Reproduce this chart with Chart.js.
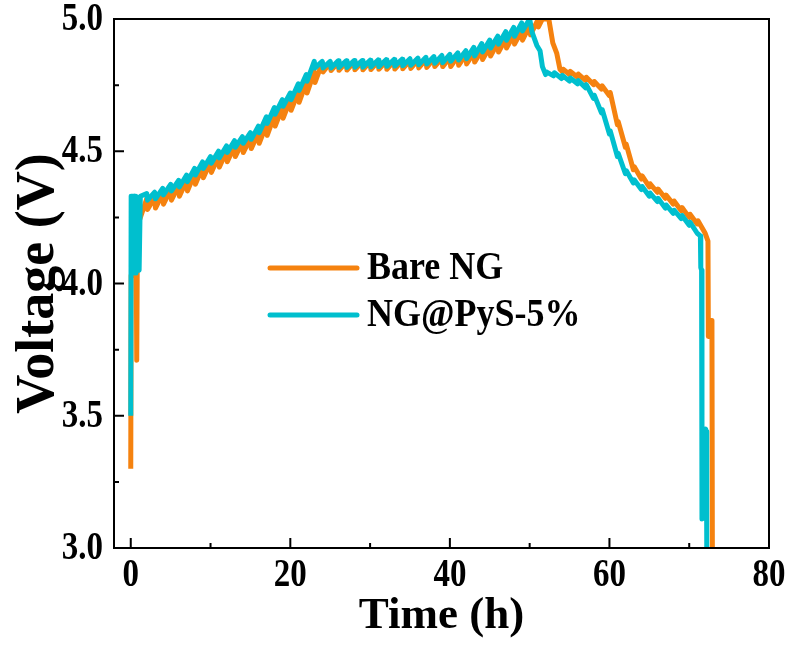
<!DOCTYPE html>
<html>
<head>
<meta charset="utf-8">
<script src="https://cdn.jsdelivr.net/npm/chart.js@4.4.1/dist/chart.umd.min.js"></script>
<style>
  html, body { margin: 0; padding: 0; background: #fff; }
  #wrap { width: 789px; height: 648px; }
</style>
</head>
<body>
<div id="wrap"><canvas id="voltChart" width="789" height="648"></canvas></div>
<script>
// time (h) / voltage (V) pairs
const bareNG = [
  [0, 3.30], [0.05, 4.03], [0.7, 4.03], [0.75, 3.71], [0.85, 4.25], [1.0, 4.28], [1.1, 4.24],
  [2, 4.32], [2.1, 4.28], [3, 4.325], [3.1, 4.285], [4, 4.34], [4.1, 4.30], [5, 4.355], [5.1, 4.315],
  [6, 4.37], [6.1, 4.33], [7, 4.39], [7.1, 4.35], [8, 4.415], [8.1, 4.375], [9, 4.44], [9.1, 4.40],
  [10, 4.46], [10.1, 4.42], [11, 4.48], [11.1, 4.44], [12, 4.50], [12.1, 4.46], [13, 4.52], [13.1, 4.48],
  [14, 4.535], [14.1, 4.495], [15, 4.55], [15.1, 4.51], [16, 4.57], [16.1, 4.53], [17, 4.60], [17.1, 4.56],
  [18, 4.635], [18.1, 4.595], [19, 4.665], [19.1, 4.625], [20, 4.695], [20.1, 4.655], [21, 4.725], [21.1, 4.685],
  [22, 4.76], [22.1, 4.72], [23, 4.80], [23.1, 4.76], [24, 4.835], [24.1, 4.80], [25, 4.835], [25.1, 4.805],
  [26, 4.836], [26.1, 4.806], [27, 4.837], [27.1, 4.807], [28, 4.838], [28.1, 4.808], [29, 4.838], [29.1, 4.808],
  [30, 4.839], [30.1, 4.809], [31, 4.84], [31.1, 4.81], [32, 4.84], [32.1, 4.81], [33, 4.841], [33.1, 4.811],
  [34, 4.842], [34.1, 4.812], [35, 4.843], [35.1, 4.813], [36, 4.845], [36.1, 4.815], [37, 4.847], [37.1, 4.817],
  [38, 4.85], [38.1, 4.82], [39, 4.852], [39.1, 4.82], [40, 4.855], [40.1, 4.82], [41, 4.86], [41.1, 4.825],
  [42, 4.865], [42.1, 4.83], [43, 4.872], [43.1, 4.837], [44, 4.882], [44.1, 4.847], [45, 4.895], [45.1, 4.86],
  [46, 4.91], [46.1, 4.875], [47, 4.925], [47.1, 4.89], [48, 4.94], [48.1, 4.905], [49, 4.955], [49.1, 4.92],
  [50, 4.975], [50.1, 4.94], [51, 4.995], [51.1, 4.97], [51.6, 5.0], [52.4, 5.0], [52.9, 4.91], [53.4, 4.87],
  [53.8, 4.81], [54.1, 4.80], [54.2, 4.81], [55, 4.79], [55.1, 4.802], [56, 4.78], [56.1, 4.792],
  [57, 4.768], [57.1, 4.78], [58, 4.752], [58.1, 4.764], [59, 4.735], [59.1, 4.747], [60, 4.71], [60.1, 4.722],
  [61, 4.60], [61.1, 4.612], [62, 4.515], [62.1, 4.527], [63, 4.43], [63.1, 4.442], [64, 4.395], [64.1, 4.407],
  [65, 4.365], [65.1, 4.377], [66, 4.345], [66.1, 4.357], [67, 4.322], [67.1, 4.334], [68, 4.30], [68.1, 4.312],
  [69, 4.275], [69.1, 4.287], [70, 4.25], [70.1, 4.262], [71, 4.225], [71.1, 4.237], [72, 4.19],
  [72.35, 4.16], [72.4, 3.80], [72.7, 3.80], [72.75, 3.86], [72.85, 3.85], [72.9, 3.0]
];

const ngPyS = [
  [0, 3.50], [0.05, 4.33], [0.45, 4.33], [0.5, 4.04], [0.6, 4.04], [0.65, 4.33],
  [1.0, 4.32], [1.05, 4.05], [1.15, 4.05], [1.2, 4.33],
  [2, 4.34], [2.1, 4.315], [3, 4.345], [3.1, 4.32], [4, 4.36], [4.1, 4.335], [5, 4.375], [5.1, 4.35],
  [6, 4.39], [6.1, 4.365], [7, 4.41], [7.1, 4.385], [8, 4.435], [8.1, 4.41], [9, 4.46], [9.1, 4.435],
  [10, 4.48], [10.1, 4.455], [11, 4.50], [11.1, 4.475], [12, 4.52], [12.1, 4.495], [13, 4.54], [13.1, 4.515],
  [14, 4.555], [14.1, 4.53], [15, 4.57], [15.1, 4.545], [16, 4.595], [16.1, 4.57], [17, 4.63], [17.1, 4.605],
  [18, 4.665], [18.1, 4.64], [19, 4.695], [19.1, 4.67], [20, 4.72], [20.1, 4.695], [21, 4.755], [21.1, 4.73],
  [22, 4.79], [22.1, 4.765], [23, 4.84], [23.1, 4.815], [24, 4.84], [24.1, 4.815], [25, 4.84], [25.1, 4.815],
  [26, 4.842], [26.1, 4.817], [27, 4.842], [27.1, 4.817], [28, 4.843], [28.1, 4.818], [29, 4.843], [29.1, 4.818],
  [30, 4.844], [30.1, 4.819], [31, 4.845], [31.1, 4.82], [32, 4.846], [32.1, 4.821], [33, 4.847], [33.1, 4.822],
  [34, 4.848], [34.1, 4.823], [35, 4.85], [35.1, 4.825], [36, 4.852], [36.1, 4.827], [37, 4.855], [37.1, 4.83],
  [38, 4.858], [38.1, 4.833], [39, 4.862], [39.1, 4.835], [40, 4.866], [40.1, 4.84], [41, 4.872], [41.1, 4.845],
  [42, 4.88], [42.1, 4.85], [43, 4.893], [43.1, 4.86], [44, 4.907], [44.1, 4.875], [45, 4.92], [45.1, 4.89],
  [46, 4.935], [46.1, 4.905], [47, 4.952], [47.1, 4.92], [48, 4.968], [48.1, 4.935], [49, 4.985], [49.1, 4.955],
  [50, 5.0], [50.3, 4.95], [50.9, 4.90], [51.3, 4.88], [51.6, 4.82], [52, 4.79],
  [52.1, 4.80], [53, 4.785], [53.1, 4.797], [54, 4.775], [54.1, 4.787], [55, 4.765], [55.1, 4.777],
  [56, 4.755], [56.1, 4.767], [57, 4.74], [57.1, 4.752], [58, 4.70], [58.1, 4.712], [59, 4.645], [59.1, 4.657],
  [60, 4.565], [60.1, 4.577], [61, 4.48], [61.1, 4.492], [62, 4.415], [62.1, 4.427], [63, 4.38], [63.1, 4.392],
  [64, 4.355], [64.1, 4.367], [65, 4.33], [65.1, 4.342], [66, 4.31], [66.1, 4.322], [67, 4.285], [67.1, 4.297],
  [68, 4.265], [68.1, 4.277], [69, 4.245], [69.1, 4.257], [70, 4.22], [70.1, 4.232], [71, 4.19],
  [71.4, 4.18], [71.45, 4.06], [71.55, 4.05], [71.6, 3.11], [72.0, 3.12], [72.05, 3.45], [72.15, 3.44], [72.2, 3.0]
];

const xTicks = [0, 20, 40, 60, 80];
const xMinor = [10, 30, 50, 70];
const yTicks = [3.0, 3.5, 4.0, 4.5, 5.0];
const yMinor = [3.25, 3.75, 4.25, 4.75];

const ORANGE = '#F5820F';
const TEAL = '#00BFCE';
const FONT = "'Liberation Serif', 'Times New Roman', serif";

function toPoints(pairs) {
  return pairs.map(p => ({ x: p[0], y: p[1] }));
}

// the reference uses a tall, narrow bold serif: draw the text stretched a little
function tallText(ctx, text, x, y, stretch) {
  ctx.save();
  ctx.translate(x, y);
  ctx.scale(1, stretch);
  ctx.fillText(text, 0, 0);
  ctx.restore();
}

// frame, inward ticks, tick labels and the legend inside the plot
const decor = {
  id: 'decor',
  afterDraw(chart) {
    const { ctx, chartArea: a, scales: { x, y } } = chart;
    ctx.save();
    ctx.strokeStyle = '#000';
    ctx.lineWidth = 2;
    ctx.strokeRect(a.left, a.top, a.right - a.left, a.bottom - a.top);
    ctx.beginPath();
    xTicks.forEach(v => { const p = x.getPixelForValue(v); ctx.moveTo(p, a.bottom); ctx.lineTo(p, a.bottom - 10); });
    xMinor.forEach(v => { const p = x.getPixelForValue(v); ctx.moveTo(p, a.bottom); ctx.lineTo(p, a.bottom - 5); });
    yTicks.forEach(v => { const p = y.getPixelForValue(v); ctx.moveTo(a.left, p); ctx.lineTo(a.left + 10, p); });
    yMinor.forEach(v => { const p = y.getPixelForValue(v); ctx.moveTo(a.left, p); ctx.lineTo(a.left + 5, p); });
    ctx.stroke();

    ctx.fillStyle = '#000';
    ctx.font = 'bold 33px ' + FONT;
    ctx.textBaseline = 'middle';
    ctx.textAlign = 'center';
    xTicks.forEach(v => tallText(ctx, String(v), x.getPixelForValue(v), a.bottom + 28, 1.2));
    ctx.textAlign = 'right';
    yTicks.forEach(v => tallText(ctx, v.toFixed(1), a.left - 11, y.getPixelForValue(v) + 1, 1.2));

    // legend
    const items = chart.data.datasets;
    ctx.lineCap = 'round';
    ctx.font = 'bold 36px ' + FONT;
    ctx.textAlign = 'left';
    items.forEach((ds, i) => {
      const ly = a.top + 249 + i * 47;
      ctx.strokeStyle = ds.borderColor;
      ctx.lineWidth = 5;
      ctx.beginPath();
      ctx.moveTo(a.left + 156, ly);
      ctx.lineTo(a.left + 243, ly);
      ctx.stroke();
      tallText(ctx, ds.label, a.left + 253, ly + 1, 1.1);
    });
    ctx.restore();
  }
};

const ctx = document.getElementById('voltChart').getContext('2d');
const voltChart = new Chart(ctx, {
  type: 'scatter',
  data: {
    datasets: [
      {
        label: 'Bare NG',
        data: toPoints(bareNG),
        borderColor: ORANGE,
        backgroundColor: ORANGE,
        borderWidth: 5,
        showLine: true,
        pointRadius: 0,
        borderJoinStyle: 'round',
        order: 2
      },
      {
        label: 'NG@PyS-5%',
        data: toPoints(ngPyS),
        borderColor: TEAL,
        backgroundColor: TEAL,
        borderWidth: 5,
        showLine: true,
        pointRadius: 0,
        borderJoinStyle: 'round',
        order: 1
      }
    ]
  },
  options: {
    responsive: false,
    animation: false,
    layout: { padding: { top: 19, right: 20, left: 0, bottom: 0 } },
    plugins: { legend: { display: false }, tooltip: { enabled: false } },
    scales: {
      x: {
        type: 'linear',
        min: -2.1,
        max: 80,
        grid: { display: false, drawTicks: false },
        border: { display: false },
        afterBuildTicks: s => { s.ticks = xTicks.map(v => ({ value: v })); },
        afterFit: s => { s.height = 100; s.paddingLeft = 0; s.paddingRight = 0; },
        ticks: { display: false },
        title: {
          display: true,
          text: 'Time (h)',
          color: '#000',
          padding: { top: 0, bottom: 9 },
          font: { family: FONT, size: 45, weight: 'bold', lineHeight: 1 }
        }
      },
      y: {
        min: 3.0,
        max: 5.0,
        grid: { display: false, drawTicks: false },
        border: { display: false },
        afterBuildTicks: s => { s.ticks = yTicks.map(v => ({ value: v })); },
        afterFit: s => { s.width = 114; s.paddingTop = 0; s.paddingBottom = 0; },
        ticks: { display: false },
        title: {
          display: true,
          text: 'Voltage (V)',
          color: '#000',
          padding: { top: 12, bottom: 0 },
          font: { family: FONT, size: 54, weight: 'bold', lineHeight: 1 }
        }
      }
    }
  },
  plugins: [decor]
});
</script>
</body>
</html>
